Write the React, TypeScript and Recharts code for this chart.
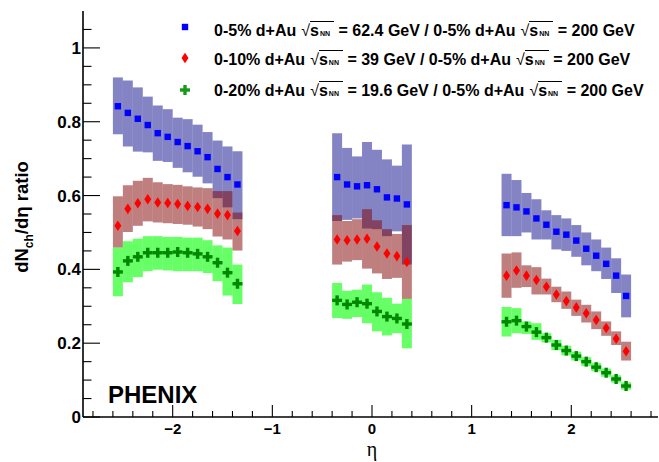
import React from 'react';
import { ComposedChart, XAxis, YAxis, Scatter, ReferenceArea } from 'recharts';

// pseudorapidity bin centres (bin width 0.1)
const ETA = [
  -2.55, -2.45, -2.35, -2.25, -2.15, -2.05, -1.95, -1.85, -1.75, -1.65, -1.55, -1.45, -1.35,
  -0.35, -0.25, -0.15, -0.05, 0.05, 0.15, 0.25, 0.35,
  1.35, 1.45, 1.55, 1.65, 1.75, 1.85, 1.95, 2.05, 2.15, 2.25, 2.35, 2.45, 2.55,
];
const BIN_HALF = 0.05;

// 0-5% d+Au 62.4 GeV / 200 GeV
const BLUE_VAL = [
  0.842, 0.824, 0.808, 0.791, 0.769, 0.759, 0.745, 0.734, 0.72, 0.704, 0.672, 0.65, 0.63,
  0.65, 0.63, 0.625, 0.628, 0.617, 0.595, 0.592, 0.576,
  0.574, 0.568, 0.557, 0.538, 0.521, 0.502, 0.494, 0.478, 0.456, 0.437, 0.415, 0.383, 0.328,
];
const BLUE_HI = [
  0.92, 0.912, 0.893, 0.868, 0.844, 0.834, 0.811, 0.807, 0.792, 0.772, 0.749, 0.733, 0.72,
  0.769, 0.729, 0.706, 0.745, 0.724, 0.698, 0.681, 0.738,
  0.659, 0.642, 0.607, 0.59, 0.56, 0.547, 0.538, 0.52, 0.5, 0.481, 0.459, 0.43, 0.386,
];
const BLUE_LO = [
  0.766, 0.733, 0.719, 0.717, 0.694, 0.691, 0.675, 0.663, 0.651, 0.633, 0.593, 0.568, 0.536,
  0.531, 0.534, 0.538, 0.511, 0.509, 0.49, 0.503, 0.413,
  0.49, 0.49, 0.5, 0.481, 0.481, 0.454, 0.45, 0.434, 0.411, 0.395, 0.374, 0.336, 0.27,
];

// 0-10% d+Au 39 GeV / 200 GeV
const RED_VAL = [
  0.518, 0.564, 0.579, 0.59, 0.581, 0.58, 0.577, 0.572, 0.569, 0.564, 0.551, 0.547, 0.504,
  0.481, 0.479, 0.481, 0.483, 0.462, 0.443, 0.436, 0.42,
  0.383, 0.397, 0.383, 0.371, 0.353, 0.332, 0.314, 0.297, 0.281, 0.263, 0.241, 0.212, 0.178,
];
const RED_HI = [
  0.598, 0.628, 0.64, 0.648, 0.636, 0.631, 0.629, 0.625, 0.622, 0.62, 0.612, 0.612, 0.554,
  0.547, 0.531, 0.536, 0.563, 0.533, 0.509, 0.496, 0.52,
  0.443, 0.446, 0.411, 0.406, 0.375, 0.353, 0.34, 0.318, 0.304, 0.286, 0.259, 0.232, 0.204,
];
const RED_LO = [
  0.459, 0.501, 0.518, 0.53, 0.527, 0.525, 0.523, 0.521, 0.516, 0.509, 0.489, 0.481, 0.451,
  0.413, 0.421, 0.425, 0.402, 0.389, 0.374, 0.377, 0.32,
  0.323, 0.35, 0.352, 0.332, 0.332, 0.311, 0.293, 0.274, 0.256, 0.238, 0.22, 0.195, 0.153,
];

// 0-20% d+Au 19.6 GeV / 200 GeV
const GREEN_VAL = [
  0.393, 0.423, 0.434, 0.445, 0.445, 0.445, 0.447, 0.445, 0.442, 0.434, 0.418, 0.391, 0.361,
  0.316, 0.305, 0.311, 0.307, 0.286, 0.272, 0.267, 0.252,
  0.258, 0.261, 0.245, 0.23, 0.215, 0.195, 0.18, 0.165, 0.15, 0.135, 0.12, 0.103, 0.084,
];
const GREEN_HI = [
  0.459, 0.476, 0.483, 0.49, 0.49, 0.488, 0.488, 0.486, 0.486, 0.479, 0.465, 0.459, 0.413,
  0.363, 0.342, 0.345, 0.359, 0.338, 0.323, 0.307, 0.32,
  0.298, 0.295, 0.259, 0.254, 0.227, 0.209, 0.193, 0.177, 0.162, 0.146, 0.131, 0.113, 0.094,
];
const GREEN_LO = [
  0.327, 0.365, 0.379, 0.395, 0.399, 0.397, 0.395, 0.395, 0.395, 0.39, 0.368, 0.329, 0.306,
  0.268, 0.266, 0.271, 0.254, 0.232, 0.221, 0.227, 0.186,
  0.218, 0.227, 0.225, 0.209, 0.202, 0.181, 0.167, 0.153, 0.138, 0.124, 0.109, 0.093, 0.074,
];

const X_TICKS = [
  -2.8, -2.6, -2.4, -2.2, -2, -1.8, -1.6, -1.4, -1.2, -1, -0.8, -0.6, -0.4, -0.2, 0,
  0.2, 0.4, 0.6, 0.8, 1, 1.2, 1.4, 1.6, 1.8, 2, 2.2, 2.4, 2.6, 2.8,
];
const X_MAJOR = [-2, -1, 0, 1, 2];
const X_LABELS = ['\u22122', '\u22121', '0', '1', '2'];
const Y_TICKS = [
  0, 0.05, 0.1, 0.15, 0.2, 0.25, 0.3, 0.35, 0.4, 0.45, 0.5, 0.55, 0.6, 0.65, 0.7, 0.75,
  0.8, 0.85, 0.9, 0.95, 1, 1.05,
];
const Y_MAJOR = [0, 0.2, 0.4, 0.6, 0.8, 1];
const Y_LABELS = ['0', '0.2', '0.4', '0.6', '0.8', '1'];

const LEGEND_CENT = ['0-5%', '0-10%', '0-20%'];
const LEGEND_ENERGY = ['62.4', '39', '19.6'];

const FONT = '"Liberation Sans", Arial, Helvetica, sans-serif';

const BAND_BLUE = 'rgba(10,10,140,0.5)';
const BAND_RED = 'rgba(128,0,0,0.5)';
const BAND_GREEN = 'rgba(0,255,0,0.6)';
const MARK_BLUE = '#0000ff';
const MARK_RED = '#ff0000';
const MARK_GREEN = '#008800';

const toPoints = (vals: number[]) => ETA.map((x, i) => ({ x, y: vals[i] }));

const near = (a: number, b: number) => Math.abs(a - b) < 1e-6;

const SquareMark = (p: any) => (
  <rect x={p.cx - 3.2} y={p.cy - 3.2} width={6.4} height={6.4} fill={MARK_BLUE} />
);
const DiamondMark = (p: any) => (
  <polygon
    points={`${p.cx},${p.cy - 5.3} ${p.cx + 3.5},${p.cy} ${p.cx},${p.cy + 5.3} ${p.cx - 3.5},${p.cy}`}
    fill={MARK_RED}
  />
);
const CrossMark = (p: any) => (
  <g fill={p.color || MARK_GREEN}>
    <rect x={p.cx - 5} y={p.cy - 1.7} width={10} height={3.4} />
    <rect x={p.cx - 1.7} y={p.cy - 5} width={3.4} height={10} />
  </g>
);

const XTick = (p: any) => {
  const v = p.payload.value;
  const idx = X_MAJOR.findIndex((m) => near(m, v));
  const major = idx >= 0;
  return (
    <g>
      <line x1={p.x} x2={p.x} y1={p.y} y2={p.y - (major ? 12 : 6)} stroke="#000" strokeWidth={1.1} />
      {major && (
        <text x={p.x} y={p.y + 17.3} textAnchor="middle" fontFamily={FONT} fontWeight="bold" fontSize={15} fill="#000">
          {X_LABELS[idx]}
        </text>
      )}
    </g>
  );
};

const YTick = (p: any) => {
  const v = p.payload.value;
  const idx = Y_MAJOR.findIndex((m) => near(m, v));
  const major = idx >= 0;
  return (
    <g>
      <line x1={p.x} x2={p.x + (major ? 17 : 8.5)} y1={p.y} y2={p.y} stroke="#000" strokeWidth={1.1} />
      {major && (
        <text x={p.x - 2} y={p.y} dy="0.36em" textAnchor="end" fontFamily={FONT} fontWeight="bold" fontSize={17} fill="#000">
          {Y_LABELS[idx]}
        </text>
      )}
    </g>
  );
};

const Sqrt = () => (
  <span style={{ marginLeft: 5 }}>
    <span style={{ fontWeight: 'normal' }}>{'\u221A'}</span>
    <span style={{ borderTop: '1.4px solid #000', paddingRight: 4 }}>
      s<span style={{ fontSize: 7, marginLeft: 1 }}>NN</span>
    </span>
  </span>
);

const LegendMarker = ({ i }: { i: number }) => {
  const cx = 8;
  const cy = 8;
  return (
    <svg width={16} height={16} style={{ position: 'absolute', left: 176.5, top: [27, 58.3, 90][i] - 8 }}>
      {i === 0 && <SquareMark cx={cx} cy={cy} />}
      {i === 1 && <DiamondMark cx={cx} cy={cy} />}
      {i === 2 && <CrossMark cx={cx} cy={cy} color="#179a17" />}
    </svg>
  );
};

export default function App() {
  const bands: [number[], number[], string][] = [
    [BLUE_LO, BLUE_HI, BAND_BLUE],
    [RED_LO, RED_HI, BAND_RED],
    [GREEN_LO, GREEN_HI, BAND_GREEN],
  ];
  return (
    <div style={{ position: 'absolute', left: 0, top: 0, width: 659, height: 462, background: '#fff' }}>
      <ComposedChart width={659} height={462} margin={{ top: 11, right: 1, left: 0, bottom: 0 }}>
        <XAxis
          type="number"
          dataKey="x"
          domain={[-2.9, 2.87]}
          ticks={X_TICKS}
          interval={0}
          tickSize={0}
          tickMargin={0}
          tickLine={false}
          tick={(p: any) => <XTick {...p} />}
          height={45}
          axisLine={{ stroke: '#000', strokeWidth: 1.6 }}
          allowDataOverflow
        />
        <XAxis
          xAxisId="top"
          orientation="top"
          type="number"
          domain={[-2.9, 2.87]}
          height={0}
          tick={false}
          tickLine={false}
          axisLine={{ stroke: '#000', strokeWidth: 1.6 }}
        />
        <YAxis
          type="number"
          dataKey="y"
          domain={[0, 1.1]}
          ticks={Y_TICKS}
          interval={0}
          tickSize={0}
          tickMargin={0}
          tickLine={false}
          tick={(p: any) => <YTick {...p} />}
          width={83}
          axisLine={{ stroke: '#000', strokeWidth: 1.6 }}
          allowDataOverflow
        />
        {bands.map(([lo, hi, color], s) =>
          ETA.map((x, i) => (
            <ReferenceArea
              key={`b${s}-${i}`}
              x1={x - BIN_HALF}
              x2={x + BIN_HALF}
              y1={lo[i]}
              y2={hi[i]}
              fill={color}
              fillOpacity={1}
              stroke="none"
            />
          ))
        )}
        <Scatter data={toPoints(BLUE_VAL)} dataKey="y" shape={SquareMark} isAnimationActive={false} />
        <Scatter data={toPoints(RED_VAL)} dataKey="y" shape={DiamondMark} isAnimationActive={false} />
        <Scatter data={toPoints(GREEN_VAL)} dataKey="y" shape={CrossMark} isAnimationActive={false} />
      </ComposedChart>

      <svg width={659} height={462} style={{ position: 'absolute', left: 0, top: 0, pointerEvents: 'none' }}>
        <text x={108} y={402.5} fontFamily={FONT} fontWeight="bold" fontSize={24} fill="#000">
          PHENIX
        </text>
        <text x={372} y={456} textAnchor="middle" fontFamily='"Liberation Serif", "DejaVu Serif", serif' fontSize={20} fill="#000">
          η
        </text>
        <text
          transform="translate(28,217) rotate(-90)"
          textAnchor="middle"
          fontFamily={FONT}
          fontWeight="bold"
          fontSize={18.5}
          fill="#000"
        >
          dN<tspan fontSize={12} dy={5}>ch</tspan>
          <tspan dy={-5}>/dη ratio</tspan>
        </text>
      </svg>

      {LEGEND_CENT.map((c, i) => (
        <React.Fragment key={c}>
          <LegendMarker i={i} />
          <div
            style={{
              position: 'absolute',
              left: 214,
              top: [21.5, 51, 81.5][i],
              whiteSpace: 'nowrap',
              fontFamily: FONT,
              fontWeight: 'bold',
              fontSize: 16,
              lineHeight: '18px',
              color: '#000',
            }}
          >
            {c} d+Au
            <Sqrt /> = {LEGEND_ENERGY[i]} GeV / 0-5% d+Au
            <Sqrt /> = 200 GeV
          </div>
        </React.Fragment>
      ))}
    </div>
  );
}
